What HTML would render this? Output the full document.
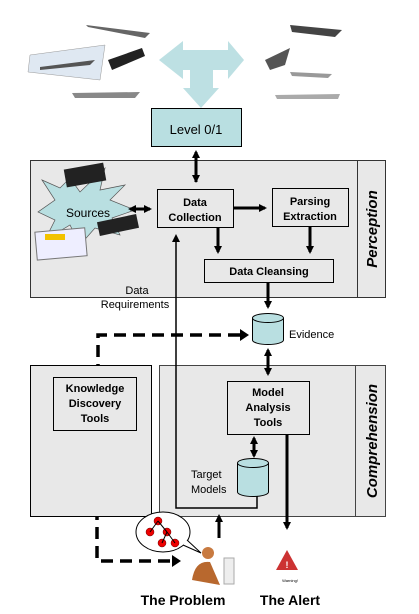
<!DOCTYPE html>
<html><head><style>
body{margin:0;width:419px;height:614px;background:#fff;position:relative;overflow:hidden;font-family:"Liberation Sans",sans-serif}
</style></head><body>
<svg width="419" height="614" viewBox="0 0 419 614" style="position:absolute;left:0;top:0" font-family="Liberation Sans, sans-serif">
<defs>
<marker id="a" markerWidth="8" markerHeight="8" refX="6" refY="4" orient="auto" markerUnits="userSpaceOnUse"><path d="M0,0 L8,4 L0,8 z" fill="#000"/></marker>
<marker id="b" markerWidth="10" markerHeight="10" refX="9" refY="5" orient="auto" markerUnits="userSpaceOnUse"><path d="M0,0 L10,5 L0,10 z" fill="#000"/></marker>
</defs>
<!-- aircraft placeholders -->
<polygon points="30,55 105,45 100,80 28,72" fill="#dfe8f2" stroke="#999" stroke-width="0.5"/>
<path d="M40,67 L95,60 L90,65 L40,70z" fill="#555"/>
<path d="M86,25 L150,33 L145,38 L88,27z" fill="#666"/>
<path d="M108,60 L142,48 L145,56 L112,70z" fill="#222"/>
<path d="M72,93 L140,92 L135,98 L75,98z" fill="#888"/>
<path d="M290,25 L342,30 L335,37 L292,32z" fill="#444"/>
<path d="M265,60 L290,48 L285,65 L270,70z" fill="#555"/>
<path d="M290,72 L332,74 L328,78 L292,76z" fill="#999"/>
<path d="M275,95 L340,94 L338,99 L277,99z" fill="#aaa"/>
<!-- big arrow -->
<path d="M159,60 L183,41 L183,50 L228,50 L228,41 L244,60 L228,79 L228,70 L213,70 L213,88 L219,88 L201,108 L183,88 L190,88 L190,70 L183,70 L183,79 Z" fill="#bde0e3"/>
<rect x="151.5" y="108.5" width="90" height="38" fill="#b9dfe1" stroke="#000"/>
<text x="196" y="134" font-size="13" text-anchor="middle">Level 0/1</text>
<!-- perception -->
<rect x="30.5" y="160.5" width="355" height="137" fill="#e8e8e8" stroke="#333"/>
<line x1="357.5" y1="160" x2="357.5" y2="297" stroke="#333"/>
<text transform="translate(377,229) rotate(-90)" font-size="15" font-weight="bold" font-style="italic" text-anchor="middle">Perception</text>
<polygon points="42,180 60,188 70,178 80,192 105,168 100,190 125,185 110,200 135,210 112,218 120,235 95,228 80,245 70,225 45,240 55,220 38,212 55,200" fill="#b9dfe1" stroke="#555" stroke-width="0.7"/>
<rect x="65" y="166" width="40" height="18" fill="#222" transform="rotate(-10 85 175)"/>
<rect x="36" y="230" width="50" height="28" fill="#eef" stroke="#777" transform="rotate(-5 60 244)"/>
<rect x="45" y="234" width="20" height="6" fill="#f2c200"/>
<rect x="98" y="218" width="40" height="14" fill="#222" transform="rotate(-12 118 225)"/>
<text x="88" y="217" font-size="12" text-anchor="middle">Sources</text>
<rect x="157.5" y="189.5" width="76" height="38" fill="#e8e8e8" stroke="#000"/>
<text x="195" y="206" font-size="11" font-weight="bold" text-anchor="middle">Data</text>
<text x="195" y="221" font-size="11" font-weight="bold" text-anchor="middle">Collection</text>
<rect x="272.5" y="188.5" width="76" height="38" fill="#e8e8e8" stroke="#000"/>
<text x="310" y="205" font-size="11" font-weight="bold" text-anchor="middle">Parsing</text>
<text x="310" y="220" font-size="11" font-weight="bold" text-anchor="middle">Extraction</text>
<rect x="204.5" y="259.5" width="129" height="23" fill="#e8e8e8" stroke="#000"/>
<text x="269" y="275" font-size="11" font-weight="bold" text-anchor="middle">Data Cleansing</text>
<g stroke="#000" stroke-width="3" fill="none">
<line x1="196" y1="155" x2="196" y2="181" marker-end="url(#a)"/>
<line x1="196" y1="182" x2="196" y2="152" marker-end="url(#a)"/>
<line x1="130" y1="209" x2="150" y2="209" marker-end="url(#a)"/>
<line x1="150" y1="209" x2="130" y2="209" marker-end="url(#a)"/>
<line x1="234" y1="208" x2="265" y2="208" marker-end="url(#a)"/>
<line x1="218" y1="228" x2="218" y2="252" marker-end="url(#a)"/>
<line x1="310" y1="227" x2="310" y2="252" marker-end="url(#a)"/>
<line x1="268" y1="283" x2="268" y2="307" marker-end="url(#a)"/>
</g>
<text x="137" y="294" font-size="11" text-anchor="middle">Data</text>
<text x="135" y="308" font-size="11" text-anchor="middle">Requirements</text>
<!-- evidence cylinder -->
<path d="M252.5,318 L252.5,340 A15.5,4.5 0 0 0 283.5,340 L283.5,318" fill="#b9dfe1" stroke="#000"/>
<ellipse cx="268" cy="318" rx="15.5" ry="4.5" fill="#b9dfe1" stroke="#000"/>
<text x="289" y="338" font-size="11">Evidence</text>
<!-- dashed -->
<g stroke="#000" stroke-width="3.5" fill="none" stroke-dasharray="12,7">
<path d="M240,335 L98,335 L98,368"/>
<path d="M97,432 L97,561 L172,561"/>
</g>
<path d="M240,329 L249,335 L240,341z M92,367 L104,367 L98,376z M172,555 L181,561 L172,567z" fill="#000"/>
<!-- comprehension -->
<rect x="30.5" y="365.5" width="121" height="151" fill="#e8e8e8" stroke="#000"/>
<rect x="53.5" y="377.5" width="83" height="53" fill="#e8e8e8" stroke="#000"/>
<text x="95" y="392" font-size="11" font-weight="bold" text-anchor="middle">Knowledge</text>
<text x="95" y="407" font-size="11" font-weight="bold" text-anchor="middle">Discovery</text>
<text x="95" y="422" font-size="11" font-weight="bold" text-anchor="middle">Tools</text>
<rect x="159.5" y="365.5" width="226" height="151" fill="#e8e8e8" stroke="#444"/>
<line x1="355.5" y1="365" x2="355.5" y2="516" stroke="#444"/>
<text transform="translate(377,441) rotate(-90)" font-size="15" font-weight="bold" font-style="italic" text-anchor="middle">Comprehension</text>
<rect x="227.5" y="381.5" width="82" height="53" fill="#e8e8e8" stroke="#000"/>
<text x="268" y="396" font-size="11" font-weight="bold" text-anchor="middle">Model</text>
<text x="268" y="411" font-size="11" font-weight="bold" text-anchor="middle">Analysis</text>
<text x="268" y="426" font-size="11" font-weight="bold" text-anchor="middle">Tools</text>
<path d="M237.5,463 L237.5,492 A15.5,4.5 0 0 0 268.5,492 L268.5,463" fill="#b9dfe1" stroke="#000"/>
<ellipse cx="253" cy="463" rx="15.5" ry="4.5" fill="#b9dfe1" stroke="#000"/>
<text x="191" y="478" font-size="11">Target</text>
<text x="191" y="493" font-size="11">Models</text>
<g stroke="#000" stroke-width="3" fill="none">
<line x1="268" y1="352" x2="268" y2="374" marker-end="url(#a)"/>
<line x1="268" y1="372" x2="268" y2="350" marker-end="url(#a)"/>
<line x1="254" y1="442" x2="254" y2="456" marker-end="url(#a)"/>
<line x1="254" y1="455" x2="254" y2="438" marker-end="url(#a)"/>
<line x1="287" y1="435" x2="287" y2="528" marker-end="url(#a)"/>
<line x1="219" y1="538" x2="219" y2="516" marker-end="url(#a)"/>
</g>
<path d="M257,496 L257,508 L176,508 L176,236" stroke="#000" stroke-width="1.5" fill="none" marker-end="url(#a)"/>
<!-- problem -->
<ellipse cx="163" cy="532" rx="27" ry="20" fill="#fff" stroke="#000"/>
<path d="M183,545 L201,553 L187,540" fill="#fff" stroke="#000"/>
<g fill="#e00" stroke="#600" stroke-width="0.5"><circle cx="158" cy="521" r="4"/><circle cx="150" cy="532" r="4"/><circle cx="167" cy="532" r="4"/><circle cx="162" cy="543" r="4"/><circle cx="175" cy="543" r="4"/></g>
<path d="M158,521L150,532M158,521L167,532M167,532L162,543M167,532L175,543" stroke="#000"/>
<circle cx="208" cy="553" r="6" fill="#c87a40"/>
<path d="M192,580 Q195,560 210,562 L220,585 Z" fill="#b8682e"/>
<rect x="224" y="558" width="10" height="26" fill="#eee" stroke="#aaa"/>
<!-- alert -->
<path d="M287,550 L298,570 L276,570 Z" fill="#c33"/>
<text x="287" y="568" font-size="9" font-weight="bold" fill="#fff" text-anchor="middle">!</text>
<text x="290" y="582" font-size="4" text-anchor="middle">Warning!</text>
<text x="183" y="605" font-size="14" font-weight="bold" text-anchor="middle">The Problem</text>
<text x="290" y="605" font-size="14" font-weight="bold" text-anchor="middle">The Alert</text>
</svg>
</body></html>
